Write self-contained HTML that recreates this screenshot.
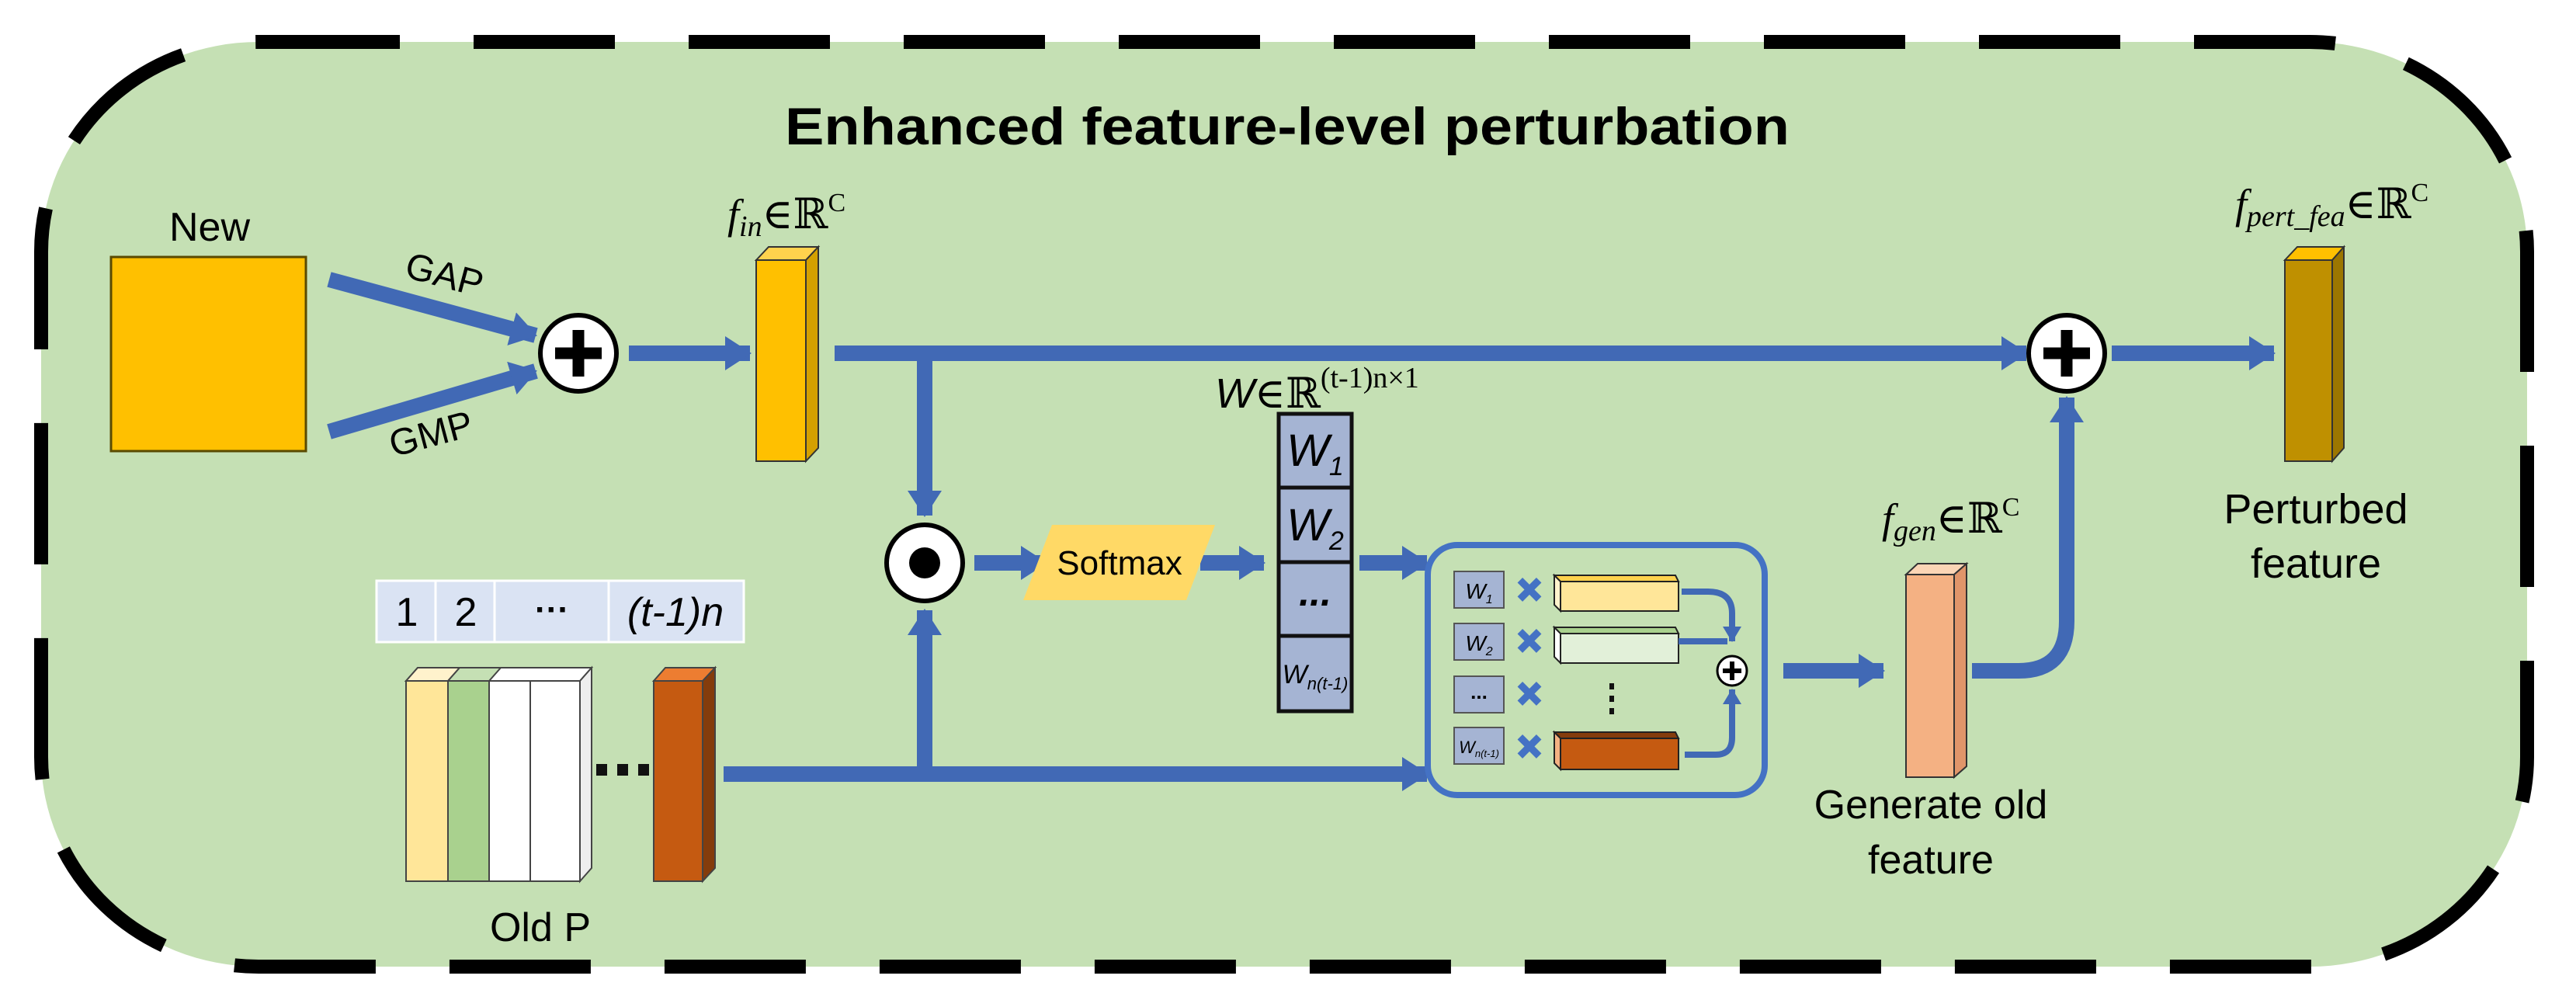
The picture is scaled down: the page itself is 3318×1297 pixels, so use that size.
<!DOCTYPE html>
<html><head><meta charset="utf-8"><style>
html,body{margin:0;padding:0;background:#fff;}
svg{display:block;}
text{font-family:"Liberation Sans",Arial,sans-serif;}
.ser{font-family:"Liberation Serif","DejaVu Serif",serif;}
</style></head><body>
<svg width="3318" height="1297" viewBox="0 0 3318 1297" xmlns="http://www.w3.org/2000/svg">
<defs>
<marker id="ah" markerUnits="userSpaceOnUse" markerWidth="34" markerHeight="44" refX="32" refY="22" orient="auto">
<path d="M0,0 L34,22 L0,44 z" fill="#4169b5"/></marker>
<marker id="as" markerUnits="userSpaceOnUse" markerWidth="20" markerHeight="24" refX="19" refY="12" orient="auto">
<path d="M0,0 L20,12 L0,24 z" fill="#4169b5"/></marker>
</defs>
<rect x="0" y="0" width="3318" height="1297" fill="#fff"/>
<rect x="53" y="54" width="3202" height="1191" rx="280" ry="270" fill="#c5e0b4" stroke="#000" stroke-width="18" stroke-dasharray="182 95"/>
<text x="1658" y="186" text-anchor="middle" font-size="68" font-weight="bold" textLength="1294" lengthAdjust="spacingAndGlyphs">Enhanced feature-level perturbation</text>

<!-- New -->
<text x="270" y="310" text-anchor="middle" font-size="52">New</text>
<rect x="143" y="331" width="251" height="250" fill="#ffc000" stroke="#5a4a00" stroke-width="3"/>
<g stroke="#4169b5" stroke-width="20" fill="none">
<line x1="424" y1="360" x2="690" y2="432" marker-end="url(#ah)"/>
<line x1="424" y1="556" x2="690" y2="478" marker-end="url(#ah)"/>
<line x1="810" y1="455" x2="966" y2="455" marker-end="url(#ah)"/>
<line x1="1075" y1="455" x2="2610" y2="455" marker-end="url(#ah)"/>
<line x1="1191" y1="455" x2="1191" y2="664" marker-end="url(#ah)"/>
<line x1="932" y1="997" x2="1838" y2="997" marker-end="url(#ah)"/>
<line x1="1191" y1="997" x2="1191" y2="786" marker-end="url(#ah)"/>
<line x1="1255" y1="725" x2="1347" y2="725" marker-end="url(#ah)"/>
<line x1="1546" y1="725" x2="1628" y2="725" marker-end="url(#ah)"/>
<line x1="1751" y1="725" x2="1838" y2="725" marker-end="url(#ah)"/>
<line x1="2297" y1="864" x2="2426" y2="864" marker-end="url(#ah)"/>
<path d="M2540,864 L2600,864 Q2662,864 2662,800 L2662,512" marker-end="url(#ah)"/>
<line x1="2720" y1="455" x2="2929" y2="455" marker-end="url(#ah)"/>
</g>
<text x="572" y="370" font-size="48" transform="rotate(15 572 356)" text-anchor="middle">GAP</text>
<text x="556" y="575" font-size="48" transform="rotate(-15 556 562)" text-anchor="middle">GMP</text>

<!-- plus circle 1 -->
<circle cx="745" cy="455" r="49" fill="#fff" stroke="#000" stroke-width="6"/>
<path d="M745,425 V485 M715,455 H775" stroke="#000" stroke-width="15"/>
<!-- plus circle 2 -->
<circle cx="2662" cy="455" r="49" fill="#fff" stroke="#000" stroke-width="6"/>
<path d="M2662,425 V485 M2632,455 H2692" stroke="#000" stroke-width="15"/>
<!-- odot -->
<circle cx="1191" cy="725" r="49" fill="#fff" stroke="#000" stroke-width="6"/>
<circle cx="1191" cy="725" r="20" fill="#000"/>

<!-- f_in bar -->
<polygon points="974,335 990,318 1054,318 1038,335" fill="#ffd24d" stroke="#333" stroke-width="2"/>
<polygon points="1038,335 1054,318 1054,577 1038,594" fill="#d4a000" stroke="#333" stroke-width="2"/>
<rect x="974" y="335" width="64" height="259" fill="#ffc000" stroke="#333" stroke-width="2"/>
<text x="937" y="294" font-size="54" class="ser"><tspan font-style="italic">f</tspan><tspan font-style="italic" font-size="38" dy="10">in</tspan><tspan dy="-10">∈ℝ</tspan><tspan font-size="34" dy="-22">C</tspan></text>

<!-- output bar -->
<polygon points="2943,335 2959,318 3019,318 3004,335" fill="#ffc000" stroke="#333" stroke-width="2"/>
<polygon points="3004,335 3019,318 3019,577 3004,594" fill="#9c7600" stroke="#333" stroke-width="2"/>
<rect x="2943" y="335" width="61" height="259" fill="#bf9000" stroke="#333" stroke-width="2"/>
<text x="2879" y="281" font-size="54" class="ser"><tspan font-style="italic">f</tspan><tspan font-style="italic" font-size="38" dy="10">pert_fea</tspan><tspan dy="-10">∈ℝ</tspan><tspan font-size="34" dy="-22">C</tspan></text>
<text x="2983" y="674" text-anchor="middle" font-size="54">Perturbed</text>
<text x="2983" y="744" text-anchor="middle" font-size="54">feature</text>

<!-- softmax -->
<polygon points="1355,676 1565,676 1528,773 1318,773" fill="#ffd966"/>
<text x="1442" y="740" text-anchor="middle" font-size="44">Softmax</text>

<!-- W column -->
<text x="1565" y="525" font-size="54" class="ser"><tspan font-family="Liberation Sans" font-style="italic">W</tspan>∈ℝ<tspan font-size="38" dy="-26">(t-1)n×1</tspan></text>
<g stroke="#111" stroke-width="5" fill="#a5b4d3">
<rect x="1647" y="533" width="94" height="95"/>
<rect x="1647" y="628" width="94" height="96"/>
<rect x="1647" y="724" width="94" height="95"/>
<rect x="1647" y="819" width="94" height="97"/>
</g>
<text x="1694" y="600" text-anchor="middle" font-size="58" font-style="italic">W<tspan font-size="34" dy="12">1</tspan></text>
<text x="1694" y="696" text-anchor="middle" font-size="58" font-style="italic">W<tspan font-size="34" dy="12">2</tspan></text>
<text x="1694" y="780" text-anchor="middle" font-size="50" font-weight="bold" font-style="italic">...</text>
<text x="1694" y="880" text-anchor="middle" font-size="34" font-style="italic">W<tspan font-size="22" dy="8">n(t-1)</tspan></text>

<!-- inner box -->
<rect x="1839" y="702" width="434" height="322" rx="38" fill="none" stroke="#4472c4" stroke-width="8"/>
<g stroke="#555" stroke-width="2" fill="#a5b4d3">
<rect x="1873" y="736" width="64" height="47"/>
<rect x="1873" y="803" width="64" height="47"/>
<rect x="1873" y="871" width="64" height="47"/>
<rect x="1873" y="937" width="64" height="47"/>
</g>
<text x="1905" y="771" text-anchor="middle" font-size="28" font-style="italic">W<tspan font-size="16" dy="6">1</tspan></text>
<text x="1905" y="838" text-anchor="middle" font-size="28" font-style="italic">W<tspan font-size="16" dy="6">2</tspan></text>
<text x="1905" y="900" text-anchor="middle" font-size="26" font-weight="bold">...</text>
<text x="1905" y="970" text-anchor="middle" font-size="22" font-style="italic">W<tspan font-size="13" dy="5">n(t-1)</tspan></text>
<g fill="#fff" stroke="#4472c4" stroke-width="4" font-size="40" font-weight="bold">
<text x="1970" y="774" text-anchor="middle">✕</text>
<text x="1970" y="840" text-anchor="middle">✕</text>
<text x="1970" y="908" text-anchor="middle">✕</text>
<text x="1970" y="976" text-anchor="middle">✕</text>
</g>
<!-- bars -->
<g stroke="#222" stroke-width="2">
<polygon points="2002,741 2010,741 2158,741 2162,749 2010,749" fill="#ffd24d"/>
<rect x="2010" y="749" width="152" height="38" fill="#ffe699"/>
<polygon points="2002,741 2010,749 2010,787 2002,779" fill="#fff2cc"/>
<polygon points="2002,808 2158,808 2162,816 2010,816" fill="#a9d18e"/>
<rect x="2010" y="816" width="152" height="38" fill="#e2f0d9"/>
<polygon points="2002,808 2010,816 2010,854 2002,846" fill="#fff"/>
<polygon points="2002,943 2158,943 2162,951 2010,951" fill="#843c0c"/>
<rect x="2010" y="951" width="152" height="40" fill="#c55a11"/>
<polygon points="2002,943 2010,951 2010,991 2002,983" fill="#f4b183"/>
</g>
<g fill="#111"><rect x="2073" y="880" width="6" height="8"/><rect x="2073" y="896" width="6" height="8"/><rect x="2073" y="912" width="6" height="8"/></g>
<g stroke="#4169b5" stroke-width="8" fill="none">
<path d="M2166,762 H2200 Q2231,762 2231,790 V826" marker-end="url(#as)"/>
<path d="M2162,826 H2225"/>
<path d="M2170,972 H2210 Q2231,972 2231,950 V888" marker-end="url(#as)"/>
</g>
<circle cx="2231" cy="864" r="19" fill="#fff" stroke="#000" stroke-width="3"/>
<path d="M2231,852 V876 M2219,864 H2243" stroke="#000" stroke-width="6"/>

<!-- f_gen -->
<polygon points="2455,740 2470,726 2533,726 2517,740" fill="#fbd5b5" stroke="#333" stroke-width="2"/>
<polygon points="2517,740 2533,726 2533,987 2517,1001" fill="#e0956a" stroke="#333" stroke-width="2"/>
<rect x="2455" y="740" width="62" height="261" fill="#f4b183" stroke="#333" stroke-width="2"/>
<text x="2424" y="686" font-size="54" class="ser"><tspan font-style="italic">f</tspan><tspan font-style="italic" font-size="38" dy="10">gen</tspan><tspan dy="-10">∈ℝ</tspan><tspan font-size="34" dy="-22">C</tspan></text>
<text x="2487" y="1054" text-anchor="middle" font-size="52">Generate old</text>
<text x="2487" y="1125" text-anchor="middle" font-size="52">feature</text>

<!-- index strip -->
<rect x="485" y="748" width="473" height="79" fill="#dae3f3" stroke="#fff" stroke-width="3"/>
<path d="M561,748 V827 M637,748 V827 M784,748 V827" stroke="#fff" stroke-width="3"/>
<text x="524" y="806" text-anchor="middle" font-size="52">1</text>
<text x="600" y="806" text-anchor="middle" font-size="52">2</text>
<text x="711" y="800" text-anchor="middle" font-size="44" font-weight="bold">···</text>
<text x="870" y="806" text-anchor="middle" font-size="52" font-style="italic">(t-1)n</text>

<!-- Old P stack -->
<g stroke="#444" stroke-width="2">
<polygon points="523,877 538,860 762,860 747,877" fill="#fff"/>
<polygon points="523,877 538,860 592,860 577,877" fill="#fff2cc"/>
<polygon points="577,877 592,860 645,860 630,877" fill="#c5e0b4"/>
<polygon points="747,877 762,860 762,1118 747,1135" fill="#eee"/>
<rect x="523" y="877" width="54" height="258" fill="#ffe699"/>
<rect x="577" y="877" width="53" height="258" fill="#a9d18e"/>
<rect x="630" y="877" width="53" height="258" fill="#fff"/>
<rect x="683" y="877" width="64" height="258" fill="#fff"/>
<polygon points="842,877 857,860 921,860 905,877" fill="#ed7d31"/>
<polygon points="905,877 921,860 921,1118 905,1135" fill="#843c0c"/>
<rect x="842" y="877" width="63" height="258" fill="#c55a11"/>
</g>
<g fill="#111"><rect x="768" y="984" width="14" height="15"/><rect x="795" y="984" width="14" height="15"/><rect x="822" y="984" width="14" height="15"/></g>
<text x="696" y="1212" text-anchor="middle" font-size="52">Old P</text>
</svg>
</body></html>
